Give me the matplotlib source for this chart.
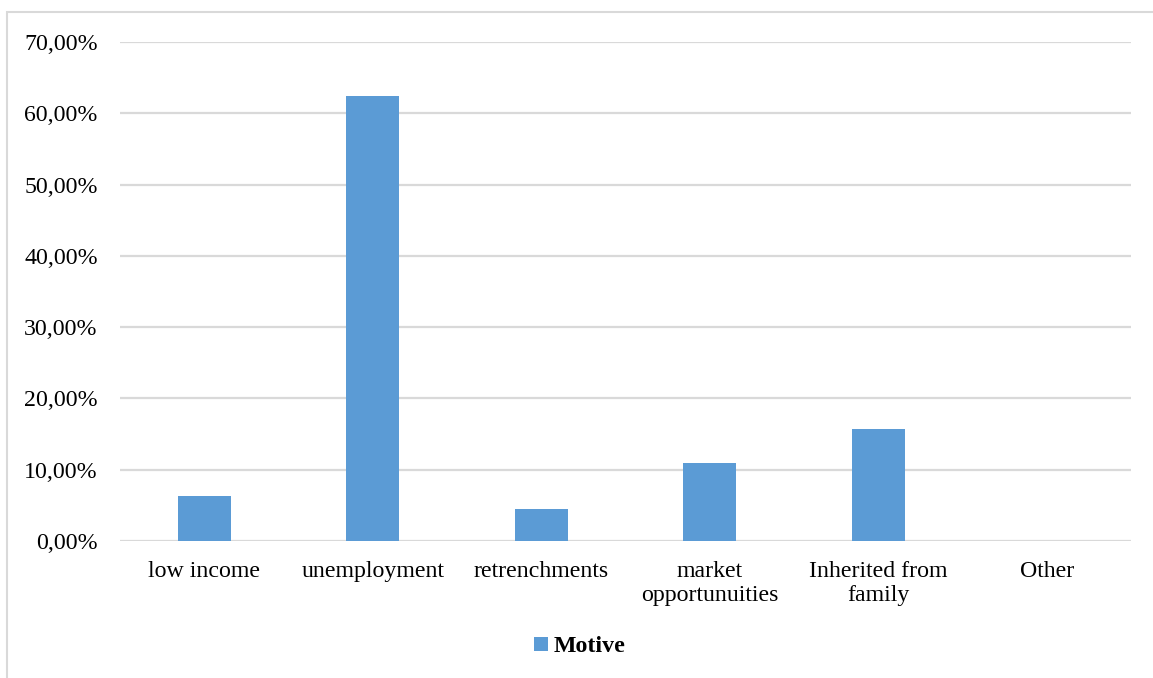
import matplotlib.pyplot as plt
from matplotlib.patches import Rectangle
from matplotlib.ticker import FuncFormatter

plt.rcParams['font.family'] = ['Liberation Serif', 'DejaVu Serif']

categories = ['low income', 'unemployment', 'retrenchments',
              'market\nopportunuities', 'Inherited from\nfamily', 'Other']
motive = [0.0625, 0.625, 0.045, 0.110, 0.1575, 0.0]

BAR_COLOR = '#5b9bd5'
GRID_COLOR = '#d9d9d9'


def pct_label(v, pos):
    return f"{v * 100:.2f}%".replace('.', ',')


def main():
    fig = plt.figure(figsize=(11.53, 6.78), dpi=100)

    # chart area border (right and bottom edges run off the canvas)
    fig.patches.append(Rectangle((0.006, -0.1), 1.2, 1.082,
                                 transform=fig.transFigure, fill=False,
                                 edgecolor=GRID_COLOR, linewidth=1.5))

    ax = fig.add_axes([0.104, 0.202, 0.877, 0.736])
    x = range(len(categories))
    ax.bar(x, motive, width=0.315, color=BAR_COLOR, label='Motive',
           zorder=3)

    ax.set_xlim(-0.5, len(categories) - 0.5)
    ax.set_ylim(0, 0.7)
    ax.set_yticks([i / 10 for i in range(8)])
    ax.yaxis.set_major_formatter(FuncFormatter(pct_label))
    ax.set_xticks(list(x))
    ax.set_xticklabels(categories, linespacing=1.15)

    ax.grid(axis='y', color=GRID_COLOR, linewidth=1.6, zorder=0)
    for s in ax.spines.values():
        s.set_visible(False)
    ax.tick_params(axis='both', length=0, labelsize=17.2, colors='black')
    ax.tick_params(axis='y', pad=16)
    ax.tick_params(axis='x', pad=14.5)

    fig.legend(loc='center', bbox_to_anchor=(0.503, 0.046), frameon=False,
               prop={'weight': 'bold', 'size': 17.2},
               handlelength=0.55, handleheight=0.55, handletextpad=0.25)

    plt.savefig('out.png', dpi=100)


if __name__ == "__main__":
    main()
